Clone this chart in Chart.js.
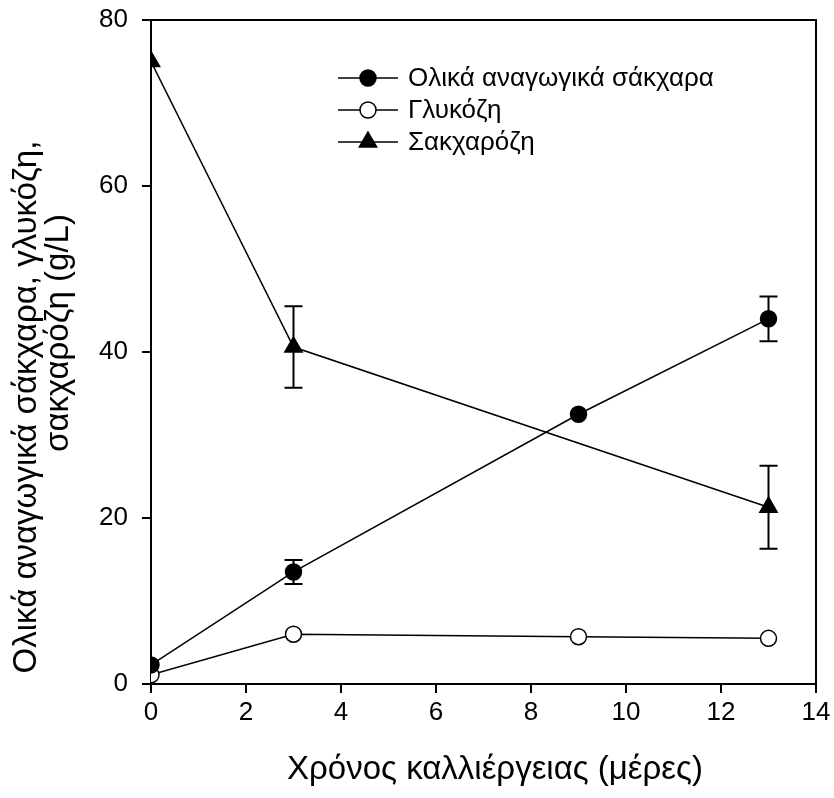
<!DOCTYPE html>
<html>
<head>
<meta charset="utf-8">
<script src="https://cdn.jsdelivr.net/npm/chart.js@4"></script>
<style>
  html, body { margin: 0; padding: 0; background: #fff; }
  #wrap { width: 834px; height: 798px; }
</style>
</head>
<body>
<div id="wrap"><canvas id="c" width="834" height="798"></canvas></div>
<script>
// Cultivation time (days)
const days = [0, 3, 9, 13];
const sucroseDays = [0, 3, 13];

// Total reducing sugars, glucose, sucrose (g/L) with standard deviations
const totalSugars = [2.3, 13.5, 32.5, 44.0];
const totalSugarsErr = [0, 1.45, 0, 2.7];
const glucose = [1.1, 6.0, 5.7, 5.5];
const sucrose = [75.0, 40.6, 21.3];
const sucroseErr = [0, 4.9, 5.0];

const seriesNames = ['Ολικά αναγωγικά σάκχαρα', 'Γλυκόζη', 'Σακχαρόζη'];
const xTitle = 'Χρόνος καλλιέργειας (μέρες)';
const yTitle = ['Ολικά αναγωγικά σάκχαρα, γλυκόζη,', 'σακχαρόζη (g/L)'];
const xTicks = [0, 2, 4, 6, 8, 10, 12, 14];
const yTicks = [0, 20, 40, 60, 80];

const FONT = "'Liberation Sans', Arial, sans-serif";

function pts(xs, ys) { return xs.map((x, i) => ({ x: x, y: ys[i] })); }

// Vertical error bars with caps, drawn through the chart's scales
const errorBars = {
  id: 'errorBars',
  afterDatasetsDraw(chart) {
    const ctx = chart.ctx;
    const xs = chart.scales.x, ys = chart.scales.y;
    ctx.save();
    ctx.strokeStyle = '#000';
    ctx.lineWidth = 2;
    chart.data.datasets.forEach(ds => {
      if (!ds.errors) return;
      ds.data.forEach((p, i) => {
        const e = ds.errors[i];
        if (!e) return;
        const px = xs.getPixelForValue(p.x);
        const top = ys.getPixelForValue(p.y + e);
        const bot = ys.getPixelForValue(p.y - e);
        ctx.beginPath();
        ctx.moveTo(px, top); ctx.lineTo(px, bot);
        ctx.moveTo(px - 9, top); ctx.lineTo(px + 9, top);
        ctx.moveTo(px - 9, bot); ctx.lineTo(px + 9, bot);
        ctx.stroke();
      });
    });
    ctx.restore();
  }
};

// Box around the plotting area
const frame = {
  id: 'frame',
  beforeDatasetsDraw(chart) {
    const a = chart.chartArea, ctx = chart.ctx;
    ctx.save();
    ctx.strokeStyle = '#000';
    ctx.lineWidth = 2;
    ctx.strokeRect(a.left, a.top, a.right - a.left, a.bottom - a.top);
    ctx.restore();
  }
};

// Axis titles
const axisTitles = {
  id: 'axisTitles',
  afterDraw(chart) {
    const ctx = chart.ctx;
    ctx.save();
    ctx.fillStyle = '#000';
    ctx.font = '33px ' + FONT;
    ctx.textAlign = 'center';
    ctx.textBaseline = 'middle';
    ctx.fillText(xTitle, 495, 770);
    ctx.rotate(-Math.PI / 2);
    ctx.fillText(yTitle[0], -407, 27);
    ctx.fillText(yTitle[1], -333, 59);
    ctx.restore();
  }
};

// Legend: line segment with the marker in the middle, then the label
const lineLegend = {
  id: 'lineLegend',
  afterDraw(chart) {
    const ctx = chart.ctx;
    const x0 = 338, x1 = 398, tx = 408;
    const cx = (x0 + x1) / 2;
    let y = 78;
    ctx.save();
    ctx.font = '26px ' + FONT;
    ctx.textBaseline = 'middle';
    chart.data.datasets.forEach(ds => {
      ctx.strokeStyle = '#000';
      ctx.lineWidth = 1.5;
      ctx.beginPath(); ctx.moveTo(x0, y); ctx.lineTo(x1, y); ctx.stroke();
      ctx.fillStyle = ds.pointBackgroundColor;
      ctx.lineWidth = ds.pointBorderWidth;
      Chart.helpers.drawPoint(ctx, {
        pointStyle: ds.pointStyle, radius: ds.pointRadius, rotation: 0,
        borderWidth: ds.pointBorderWidth
      }, cx, y);
      ctx.fillStyle = '#000';
      ctx.fillText(ds.label, tx, y + 1);
      y += 32;
    });
    ctx.restore();
  }
};

const common = {
  borderColor: '#000',
  borderWidth: 1.5,
  pointBorderColor: '#000',
  pointBorderWidth: 1.5,
  showLine: true,
  tension: 0
};

new Chart(document.getElementById('c'), {
  type: 'scatter',
  data: {
    datasets: [
      Object.assign({}, common, {
        label: seriesNames[0],
        data: pts(days, totalSugars),
        errors: totalSugarsErr,
        pointStyle: 'circle', pointRadius: 8,
        pointBackgroundColor: '#000'
      }),
      Object.assign({}, common, {
        label: seriesNames[1],
        data: pts(days, glucose),
        pointStyle: 'circle', pointRadius: 8,
        pointBackgroundColor: '#fff'
      }),
      Object.assign({}, common, {
        label: seriesNames[2],
        data: pts(sucroseDays, sucrose),
        errors: sucroseErr,
        pointStyle: 'triangle', pointRadius: 10,
        pointBackgroundColor: '#000'
      })
    ]
  },
  options: {
    responsive: false,
    animation: false,
    layout: { padding: { top: 20, right: 18, left: 0, bottom: 0 } },
    plugins: {
      legend: { display: false },
      tooltip: { enabled: false }
    },
    scales: {
      x: {
        type: 'linear', min: 0, max: 14,
        afterBuildTicks: s => { s.ticks = xTicks.map(v => ({ value: v })); },
        afterFit: s => { s.height = 114; s.paddingLeft = 0; s.paddingRight = 0; },
        ticks: { color: '#000', font: { family: FONT, size: 26 }, padding: 4, maxRotation: 0 },
        grid: { drawOnChartArea: false, drawTicks: true, tickLength: 9, color: '#000', lineWidth: 2 },
        border: { display: true, color: '#000', width: 2 },
        title: { display: false }
      },
      y: {
        type: 'linear', min: 0, max: 80,
        afterBuildTicks: s => { s.ticks = yTicks.map(v => ({ value: v })); },
        afterFit: s => { s.width = 151; s.paddingTop = 0; s.paddingBottom = 0; },
        ticks: { color: '#000', font: { family: FONT, size: 26 }, padding: 14 },
        grid: { drawOnChartArea: false, drawTicks: true, tickLength: 9, color: '#000', lineWidth: 2 },
        border: { display: true, color: '#000', width: 2 },
        title: { display: false }
      }
    }
  },
  plugins: [frame, errorBars, lineLegend, axisTitles]
});
</script>
</body>
</html>
